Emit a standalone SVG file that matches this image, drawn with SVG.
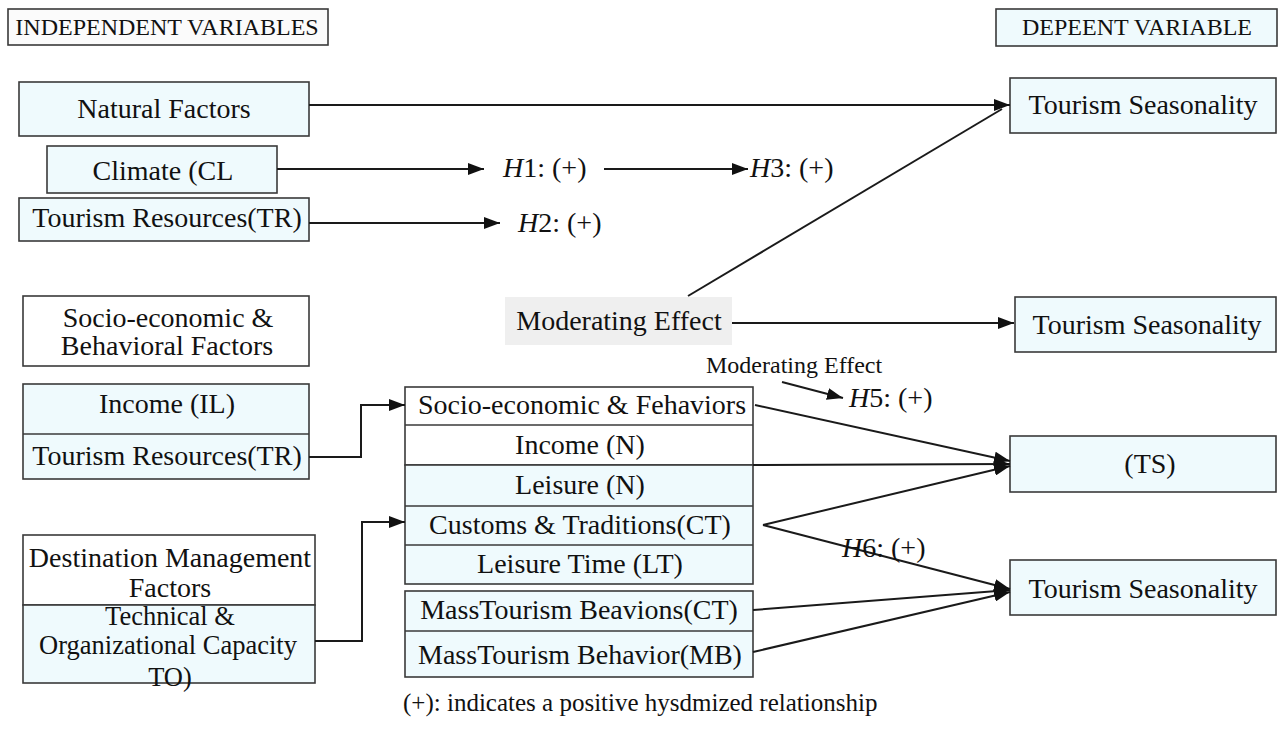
<svg xmlns="http://www.w3.org/2000/svg" width="1285" height="740" viewBox="0 0 1285 740">
<defs>
<style>
text{font-family:"Liberation Serif","Times New Roman",serif;fill:#111;}
.t{font-size:28px;text-anchor:middle;}
.t2{font-size:26.5px;text-anchor:middle;}
.h{font-size:24px;text-anchor:middle;}
.box{stroke:#3a3a3a;stroke-width:1.6;}
.blue{fill:#effafd;}
.white{fill:#ffffff;}
.ln{stroke:#1a1a1a;stroke-width:2;fill:none;}
.hy{font-size:28px;}
</style>
<marker id="ah" markerUnits="userSpaceOnUse" markerWidth="18" markerHeight="12" refX="16" refY="6" orient="auto">
<path d="M0,0 L16,6 L0,12 z" fill="#111"/>
</marker>
</defs>
<rect width="1285" height="740" fill="#ffffff"/>

<g id="hdr-independent">
<rect class="box" x="8" y="9" width="320" height="36" fill="#fbfbfb"/>
<text class="h" x="167" y="35">INDEPENDENT VARIABLES</text>
</g>
<g id="hdr-dependent">
<rect class="box blue" x="996" y="9" width="281" height="37"/>
<text class="h" x="1137" y="35">DEPEENT VARIABLE</text>
</g>

<g id="natural-factors">
<rect class="box blue" x="19" y="82" width="290" height="54"/>
<text class="t" x="164" y="118">Natural Factors</text>
</g>
<g id="climate">
<rect class="box blue" x="47" y="146" width="230" height="47"/>
<text class="t" x="163" y="180">Climate (CL</text>
</g>
<g id="tourism-resources-1">
<rect class="box blue" x="19" y="198" width="290" height="43"/>
<text class="t" x="167" y="227">Tourism Resources(TR)</text>
</g>

<g id="socio-header">
<rect class="box white" x="23" y="296" width="286" height="70"/>
<text class="t" x="168" y="327">Socio-economic &amp;</text>
<text class="t" x="167" y="355">Behavioral Factors</text>
</g>
<g id="income-group">
<rect class="box blue" x="23" y="384" width="286" height="95"/>
<line class="box" x1="23" y1="434" x2="309" y2="434"/>
<text class="t" x="167" y="413">Income (IL)</text>
<text class="t" x="167" y="465">Tourism Resources(TR)</text>
</g>
<g id="destination-group">
<rect class="box white" x="23" y="535" width="292" height="70"/>
<rect class="box blue" x="23" y="605" width="292" height="78"/>
<text class="t" x="170" y="567">Destination Management</text>
<text class="t" x="170" y="597">Factors</text>
<text class="t2" x="170" y="625">Technical &amp;</text>
<text class="t2" x="168" y="654">Organizational Capacity</text>
<text class="t2" x="170" y="686">TO)</text>
</g>

<g id="moderating-effect">
<rect x="505" y="297" width="227" height="48" fill="#efefef"/>
<text class="t" x="619" y="330">Moderating Effect</text>
</g>

<g id="middle-stack">
<rect class="box white" x="405" y="387" width="348" height="78"/>
<rect class="box blue" x="405" y="465" width="348" height="119"/>
<line class="box" x1="405" y1="425" x2="753" y2="425"/>
<line class="box" x1="405" y1="506" x2="753" y2="506"/>
<line class="box" x1="405" y1="545" x2="753" y2="545"/>
<text class="t" x="582" y="414">Socio-economic &amp; Fehaviors</text>
<text class="t" x="580" y="454">Income (N)</text>
<text class="t" x="580" y="494">Leisure (N)</text>
<text class="t" x="580" y="534">Customs &amp; Traditions(CT)</text>
<text class="t" x="580" y="573">Leisure Time (LT)</text>
</g>
<g id="mass-stack">
<rect class="box blue" x="405" y="591" width="348" height="86"/>
<line class="box" x1="405" y1="631" x2="753" y2="631"/>
<text class="t" x="579" y="619">MassTourism Beavions(CT)</text>
<text class="t" x="580" y="664">MassTourism Behavior(MB)</text>
</g>

<g id="ts-top">
<rect class="box blue" x="1010" y="78" width="266" height="55"/>
<text class="t" x="1143" y="114">Tourism Seasonality</text>
</g>
<g id="ts-middle">
<rect class="box blue" x="1015" y="297" width="261" height="55"/>
<text class="t" x="1147" y="334">Tourism Seasonality</text>
</g>
<g id="ts-abbrev">
<rect class="box blue" x="1010" y="436" width="266" height="56"/>
<text class="t" x="1150" y="473">(TS)</text>
</g>
<g id="ts-bottom">
<rect class="box blue" x="1010" y="560" width="266" height="55"/>
<text class="t" x="1143" y="598">Tourism Seasonality</text>
</g>

<g id="connectors">
<line class="ln" x1="309" y1="105" x2="1010" y2="105" marker-end="url(#ah)"/>
<line class="ln" x1="688" y1="296" x2="1002" y2="109"/>
<line class="ln" x1="277" y1="169" x2="484" y2="169" marker-end="url(#ah)"/>
<line class="ln" x1="604" y1="169" x2="748" y2="169" marker-end="url(#ah)"/>
<line class="ln" x1="309" y1="223" x2="500" y2="223" marker-end="url(#ah)"/>
<line class="ln" x1="732" y1="323" x2="1014" y2="323" marker-end="url(#ah)"/>
<line class="ln" x1="782" y1="382" x2="843" y2="398" marker-end="url(#ah)"/>
<polyline class="ln" points="309,457 361,457 361,405 405,405" marker-end="url(#ah)"/>
<polyline class="ln" points="315,641 362,641 362,522 405,522" marker-end="url(#ah)"/>
<line class="ln" x1="755" y1="405" x2="1010" y2="461" marker-end="url(#ah)"/>
<line class="ln" x1="753" y1="465" x2="1010" y2="464" marker-end="url(#ah)"/>
<line class="ln" x1="763" y1="525" x2="1010" y2="466" marker-end="url(#ah)"/>
<line class="ln" x1="763" y1="525" x2="1010" y2="589" marker-end="url(#ah)"/>
<line class="ln" x1="753" y1="610" x2="1010" y2="590" marker-end="url(#ah)"/>
<line class="ln" x1="753" y1="652" x2="1010" y2="592" marker-end="url(#ah)"/>
</g>

<g id="labels">
<text class="hy" x="503" y="177"><tspan font-style="italic">H</tspan>1: (+)</text>
<text class="hy" x="750" y="177"><tspan font-style="italic">H</tspan>3: (+)</text>
<text class="hy" x="518" y="232"><tspan font-style="italic">H</tspan>2: (+)</text>
<text x="706" y="373" font-size="24">Moderating Effect</text>
<text class="hy" x="849" y="407"><tspan font-style="italic">H</tspan>5: (+)</text>
<text class="hy" x="842" y="557"><tspan font-style="italic">H</tspan>6: (+)</text>
<text x="403" y="711" font-size="25">(+): indicates a positive hysdmized relationship</text>
</g>
</svg>
